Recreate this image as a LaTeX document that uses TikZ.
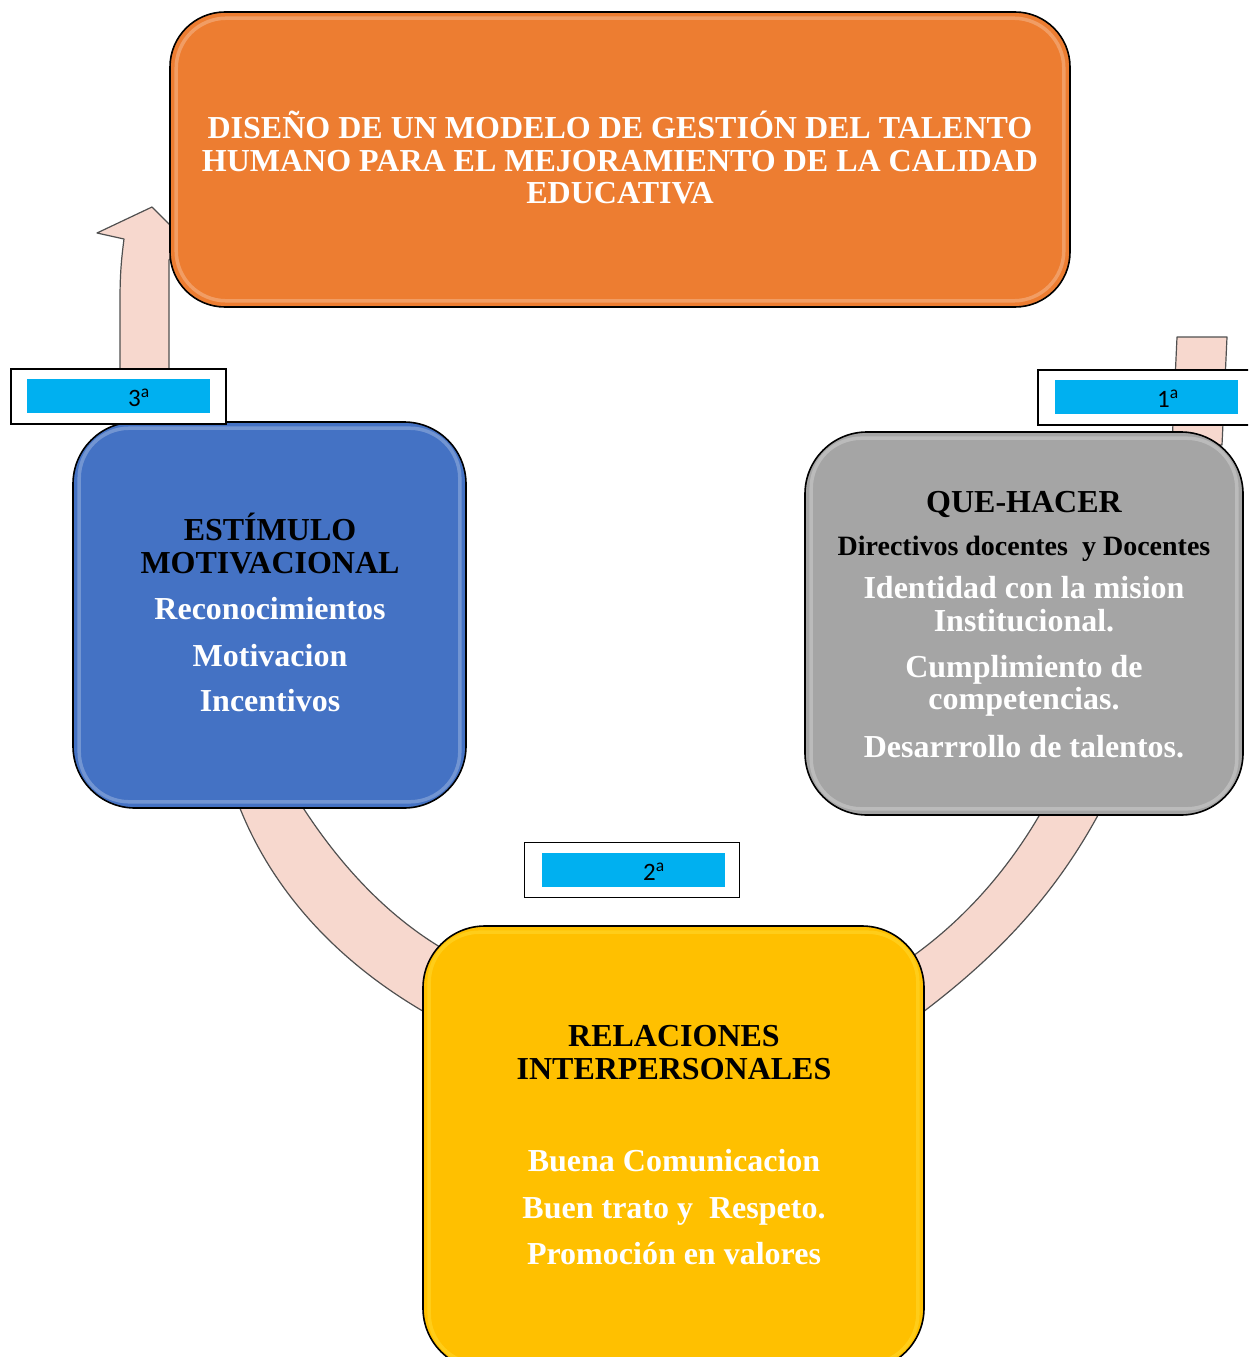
\documentclass[tikz,border=0pt]{standalone}
\usepackage{fontspec}
\setmainfont{Liberation Serif}
\newfontfamily\labelfont{Carlito}
\definecolor{boxorange}{HTML}{ED7D31}
\definecolor{boxblue}{HTML}{4472C4}
\definecolor{boxgray}{HTML}{A5A5A5}
\definecolor{boxyellow}{HTML}{FFC000}
\definecolor{tagcyan}{HTML}{00B0F0}
\definecolor{bandpink}{HTML}{F7D8CE}
\definecolor{bandline}{HTML}{505050}
\begin{document}
\begin{tikzpicture}[x=1pt,y=-1pt,
  box/.style={draw=black, line width=1.6pt, rounded corners=#1, inner sep=0pt, shape=rectangle},
  gloss/.style={draw=#1, line width=3.5pt, rounded corners=50pt, opacity=0.25},
  band/.style={fill=bandpink, draw=bandline, line width=1.2pt, line join=round},
  tagframe/.style={draw=black, line width=1.8pt, fill=white, minimum width=215pt, minimum height=55pt, inner sep=0pt},
  tagfill/.style={fill=tagcyan, minimum width=183pt, minimum height=34pt, inner sep=0pt},
  tagtext/.style={font=\labelfont\fontsize{25}{28}\selectfont, anchor=center, inner sep=0pt},
  head/.style={font=\fontsize{32}{33}\selectfont\bfseries, anchor=base, inner sep=0pt},
  body/.style={font=\fontsize{32}{33}\selectfont\bfseries, text=white, anchor=base, inner sep=0pt},
  small/.style={font=\fontsize{28}{29}\selectfont\bfseries, anchor=base, inner sep=0pt}
]
\useasboundingbox (0,0) rectangle (1248,1357);
\clip (0,0) rectangle (1248,1357);

% connecting bands of the cycle
\path[band] (1177,337) -- (1227,337) -- (1222,445) -- (1172,445) -- cycle;
\path[band] (1048,800) .. controls (1010,870) and (960,925) .. (900,965)
  -- (915,1018) .. controls (1000,955) and (1060,890) .. (1106,800) -- cycle;
\path[band] (295,795) .. controls (335,860) and (385,915) .. (445,950)
  -- (435,1018) .. controls (330,960) and (265,880) .. (235,795) -- cycle;
\path[band] (120,405) -- (120,300) .. controls (120,270) and (122,255) .. (124,239)
  -- (97,233) -- (152,207) -- (185,240) -- (169,260) -- (169,405) -- cycle;

% main boxes
\node[box=55pt, fill=boxorange, minimum width=900pt, minimum height=295pt] (title) at (620,159.5) {};
\draw[gloss=white] ([shift={(7,7)}]title.north west) rectangle ([shift={(-7,-7)}]title.south east);

\node[box=62pt, fill=boxblue, minimum width=393pt, minimum height=386pt] (stim) at (269.5,615) {};
\draw[gloss=white] ([shift={(7,7)}]stim.north west) rectangle ([shift={(-7,-7)}]stim.south east);

\node[box=62pt, fill=boxgray, minimum width=438pt, minimum height=383pt] (task) at (1024,623.5) {};
\draw[gloss=white] ([shift={(7,7)}]task.north west) rectangle ([shift={(-7,-7)}]task.south east);

\node[box=62pt, fill=boxyellow, minimum width=501pt, minimum height=444pt] (rel) at (673.5,1148) {};
\draw[gloss=yellow!60!white] ([shift={(7,7)}]rel.north west) rectangle ([shift={(-7,-7)}]rel.south east);

% title text
\node[head, text=white] (t1) at (620,138) {DISEÑO DE UN MODELO DE GESTIÓN DEL TALENTO};
\node[head, text=white] (t2) at (620,171) {HUMANO PARA EL MEJORAMIENTO DE LA CALIDAD};
\node[head, text=white] (t3) at (620,203) {EDUCATIVA};

% stimulus box text
\node[head] (s1) at (270,540) {ESTÍMULO};
\node[head] (s2) at (270,573) {MOTIVACIONAL};
\node[body] (s3) at (270,619) {Reconocimientos};
\node[body] (s4) at (270,666) {Motivacion};
\node[body] (s5) at (270,711) {Incentivos};

% task box text
\node[head] (q1) at (1024,512) {QUE-HACER};
\node[small] (q2) at (1024,555) {Directivos docentes\ \ y Docentes};
\node[body] (q3) at (1024,598) {Identidad con la mision};
\node[body] (q4) at (1024,631) {Institucional.};
\node[body] (q5) at (1024,677) {Cumplimiento de};
\node[body] (q6) at (1024,709) {competencias.};
\node[body] (q7) at (1024,757) {Desarrrollo de talentos.};

% relations box text
\node[head] (r1) at (674,1046) {RELACIONES};
\node[head] (r2) at (674,1079) {INTERPERSONALES};
\node[body] (r3) at (674,1171) {Buena Comunicacion};
\node[body] (r4) at (674,1218) {Buen trato y\ \ Respeto.};
\node[body] (r5) at (674,1264) {Promoción en valores};

% step tags
\node[tagframe] (tag3) at (118.5,396.5) {};
\node[tagfill] (tag3f) at (118.5,396) {};
\node[tagtext] (tag3t) at (139,398) {3\textsuperscript{a}};

\node[tagframe] (tag1) at (1145.5,397.5) {};
\node[tagfill] (tag1f) at (1146.5,397) {};
\node[tagtext] (tag1t) at (1168,399) {1\textsuperscript{a}};

\node[tagframe] (tag2) at (632,870) {};
\node[tagfill] (tag2f) at (633.5,870) {};
\node[tagtext] (tag2t) at (654,872) {2\textsuperscript{a}};
\end{tikzpicture}
\end{document}
